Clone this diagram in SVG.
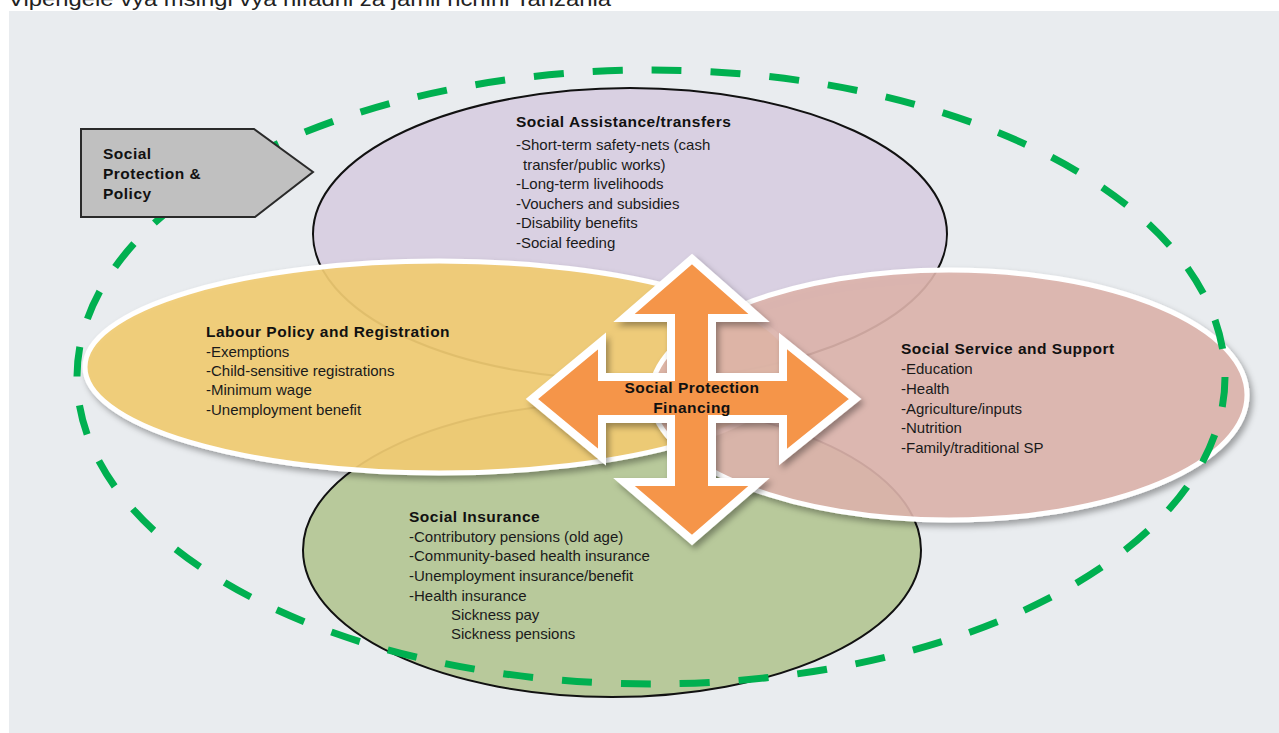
<svg xmlns="http://www.w3.org/2000/svg" width="1279" height="733" viewBox="0 0 1279 733">
  <defs>
    <filter id="shadow" x="-10%" y="-10%" width="125%" height="130%">
      <feDropShadow dx="3" dy="4" stdDeviation="3" flood-color="#000" flood-opacity="0.35"/>
    </filter>
    <style>
      .t { font-family: "Liberation Sans", Arial, sans-serif; font-size: 15px; fill: #1a1a1a; }
      .b { font-family: "Liberation Sans", Arial, sans-serif; font-size: 15.5px; font-weight: bold; letter-spacing: 0.5px; fill: #111; }
      .blk { stroke: #111; stroke-width: 2; }
      .wht { stroke: #ffffff; stroke-width: 5; }
    </style>
  </defs>
  <rect x="0" y="0" width="1279" height="733" fill="#ffffff"/>
  <text x="8" y="6" font-family="'Liberation Sans', Arial, sans-serif" font-size="21" fill="#222" textLength="603" lengthAdjust="spacingAndGlyphs">Vipengele vya msingi vya hifadhi za jamii nchini Tanzania</text>
  <rect x="9" y="11" width="1270" height="722" fill="#e9ecef"/>

  <g id="social-assistance">
    <ellipse cx="630" cy="234" rx="317" ry="146" fill="#d9d0e2" class="blk"/>
    <text class="b" x="516" y="127">Social Assistance/transfers</text>
    <text class="t" x="516" y="150">-Short-term safety-nets (cash</text>
    <text class="t" x="523" y="170">transfer/public works)</text>
    <text class="t" x="516" y="189">-Long-term livelihoods</text>
    <text class="t" x="516" y="209">-Vouchers and subsidies</text>
    <text class="t" x="516" y="228">-Disability benefits</text>
    <text class="t" x="516" y="248">-Social feeding</text>
  </g>

  <g id="social-insurance">
    <ellipse cx="612" cy="550" rx="309" ry="147" fill="#b8c99b" class="blk"/>
    <text class="b" x="409" y="522">Social Insurance</text>
    <text class="t" x="409" y="542">-Contributory pensions (old age)</text>
    <text class="t" x="409" y="561">-Community-based health insurance</text>
    <text class="t" x="409" y="581">-Unemployment insurance/benefit</text>
    <text class="t" x="409" y="601">-Health insurance</text>
    <text class="t" x="451" y="620">Sickness pay</text>
    <text class="t" x="451" y="639">Sickness pensions</text>
  </g>

  <g id="labour-policy">
    <ellipse cx="439" cy="367" rx="354" ry="106" fill="#f3cd74" fill-opacity="0.9" class="wht" filter="url(#shadow)"/>
    <text class="b" x="206" y="337">Labour Policy and Registration</text>
    <text class="t" x="206" y="357">-Exemptions</text>
    <text class="t" x="206" y="376">-Child-sensitive registrations</text>
    <text class="t" x="206" y="395">-Minimum wage</text>
    <text class="t" x="206" y="415">-Unemployment benefit</text>
  </g>

  <g id="social-service">
    <ellipse cx="949" cy="395" rx="298" ry="125" fill="#dfb5ad" fill-opacity="0.88" class="wht" filter="url(#shadow)"/>
    <text class="b" x="901" y="354">Social Service and Support</text>
    <text class="t" x="901" y="374">-Education</text>
    <text class="t" x="901" y="394">-Health</text>
    <text class="t" x="901" y="414">-Agriculture/inputs</text>
    <text class="t" x="901" y="433">-Nutrition</text>
    <text class="t" x="901" y="453">-Family/traditional SP</text>
  </g>

  <g id="boundary">
    <ellipse cx="651" cy="377" rx="574" ry="307" fill="none" stroke="#00b050" stroke-width="7" stroke-dasharray="30 29"/>
  </g>

  <g id="financing">
    <polygon points="692,259 759,318 712,318 712,377 783,377 783,341 855,399 783,457 783,419 712,419 712,482 759,482 692,540 624,482 671,482 671,419 602,419 602,457 532,399 602,341 602,377 671,377 671,318 624,318" fill="#f5954a" stroke="#ffffff" stroke-width="8" stroke-linejoin="miter" filter="url(#shadow)"/>
    <text class="b" x="692" y="393" text-anchor="middle">Social Protection</text>
    <text class="b" x="692" y="413" text-anchor="middle">Financing</text>
  </g>

  <g id="sp-policy-label">
    <polygon points="81,129 254,129 313,172 255,217 81,217" fill="#c0c0c0" stroke="#2a2a2a" stroke-width="2"/>
    <text class="b" x="103" y="159">Social</text>
    <text class="b" x="103" y="179">Protection &amp;</text>
    <text class="b" x="103" y="199">Policy</text>
  </g>
</svg>
